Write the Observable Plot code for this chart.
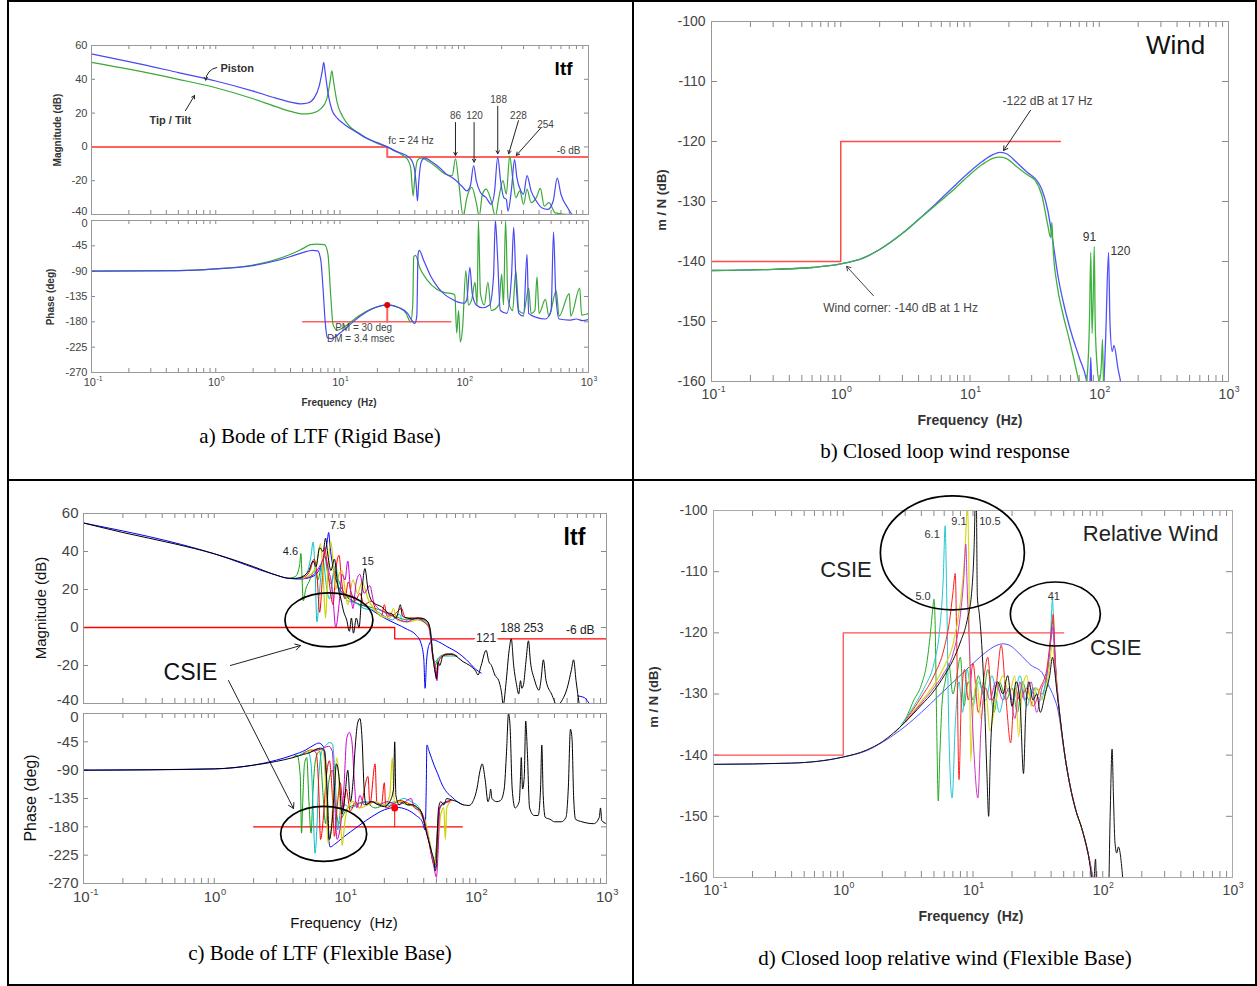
<!DOCTYPE html>
<html><head><meta charset="utf-8">
<script src="https://cdn.jsdelivr.net/npm/d3@7"></script>
<script src="https://cdn.jsdelivr.net/npm/@observablehq/plot@0.6"></script>
<style>
body{margin:0;background:#fff;}
#page{position:relative;width:1257px;height:986px;overflow:hidden;font-family:"Liberation Sans",Arial,sans-serif;background:#fff;}
.bl{position:absolute;background:#000;}
.lbl{position:absolute;white-space:pre;color:#222;transform:translate(-50%,-50%);}
.rot{transform:translate(-50%,-50%) rotate(-90deg);}
.cap{position:absolute;font-family:"Liberation Serif","Times New Roman",serif;font-size:21px;transform:translate(-50%,-50%);white-space:nowrap;color:#000;}
svg{overflow:visible;}
</style></head><body><div id="page"></div>
<script>
// ---------- tick labels ----------
const decades = [0.1, 1, 10, 100, 1000];
const exps = ["-1", "0", "1", "2", "3"];
const magTicks = [-40, -20, 0, 20, 40, 60];
const phaseTicks = [-270, -225, -180, -135, -90, -45, 0];
const windTicks = [-160, -150, -140, -130, -120, -110, -100];

// ---------- a) Bode of LTF (Rigid Base) ----------
const aMagPiston = [[0.1,55],[0.2,50.5],[0.5,44],[1,39],[2,33],[3,29],[4,26.5],[4.8,25.5],[5.5,26],[6.2,29],[6.8,36],[7.2,45],[7.4,50],[7.6,44],[8,32],[8.6,22],[9.5,17],[11,13],[13,9.5],[16,5.5],[20,2.5],[24,0],[28,-2.5],[33,-4.5],[37,-7],[39.5,-12],[41,-22],[42,-32],[43,-21],[45,-9],[48,-6.5],[55,-9],[65,-13],[71,-15.8],[83,-19],[95,-23],[105,-26],[112,-23],[119,-11],[125,-20],[135,-27],[150,-30],[165,-34],[175,-27],[186,-6],[196,-20],[208,-30],[218,-31],[225,-38],[240,-25],[254,-7.5],[265,-18],[285,-26],[300,-28],[320,-17],[345,-26],[380,-32],[420,-36],[470,-37],[520,-32],[560,-18.5],[600,-28],[680,-36],[740,-40],[900,-42]];
const aMagTipTilt = [[0.1,50],[0.2,46],[0.5,40],[1,35],[2,28.5],[3,24],[4,21],[5,19.5],[6,20],[7,22.5],[7.8,28],[8.3,38],[8.6,45],[8.9,38],[9.5,26],[10.5,18],[12,12],[14,8.5],[17,4.5],[20,2],[24,0],[28,-2.5],[32,-5],[35,-7.5],[37,-12],[38.8,-29],[40,-18],[42,-8],[45,-6.5],[50,-8],[60,-12],[70,-16],[80,-17],[85,-7],[90,-20],[98,-41],[105,-30],[115,-24],[125,-33],[132,-41],[140,-28],[150,-25],[165,-32],[178,-41],[190,-30],[205,-20],[218,-28],[232,-5.5],[245,-18],[260,-30],[280,-26],[300,-34],[320,-25],[345,-33],[380,-30],[410,-24.5],[440,-35],[480,-33],[540,-39],[700,-40],[1000,-40]];
const aPhasePiston = [[0.1,-90],[0.5,-89],[1,-86],[2,-80],[3,-72],[4,-64],[5,-57],[6,-53],[6.6,-54],[7,-70],[7.3,-120],[7.6,-180],[7.9,-208],[8.5,-210],[10,-200],[12,-185],[15,-168],[19,-155],[24,-150],[30,-155],[35,-165],[38,-178],[40,-183],[41.5,-170],[42.5,-60],[43.5,-53],[47,-70],[54,-100],[62,-120],[71,-133],[80,-140],[89,-145],[100,-147],[105,-140],[111,-83],[116,-130],[125,-150],[140,-155],[160,-150],[172,-100],[178,0],[185,-60],[195,-160],[220,-165],[240,-100],[250,-12],[260,-100],[275,-165],[300,-170],[320,-60],[330,-165],[380,-172],[450,-175],[500,-160],[523,-20],[545,-130],[580,-175],[700,-177],[800,-175],[900,-178],[1000,-176]];
const aPhaseTipTilt = [[0.1,-90],[0.5,-89],[1,-86],[2,-79],[3,-70],[4,-60],[5,-50],[5.8,-43],[6.5,-42],[7.5,-43],[8,-60],[8.4,-130],[8.8,-185],[9.5,-195],[11,-188],[14,-170],[18,-157],[24,-150],[30,-155],[34,-165],[37,-180],[38.5,-150],[39.2,-65],[40.5,-62],[44,-85],[50,-105],[60,-122],[70,-128],[80,-130],[84,-133],[87,-200],[90,-160],[93,-216],[97,-190],[103,-89],[108,-150],[115,-140],[122,-110],[127,-150],[130,0],[135,-130],[145,-150],[155,-110],[165,-160],[190,-150],[200,-95],[207,-150],[215,0],[225,-140],[245,-160],[260,-90],[275,-160],[300,-165],[330,-120],[345,-165],[370,-160],[385,-100],[400,-165],[450,-140],[480,-170],[550,-125],[580,-170],[700,-130],[720,-170],[850,-120],[880,-168],[1000,-165]];
const aRedMag = [[0.1,0],[24,0],[24,-6],[1000,-6]];
const aRedPhase = [[5,-180],[78,-180]];
const aMargin = [[24,-180],[24,-150]];

// ---------- b) Closed loop wind response ----------
const bBlue = [[0.1,-141.5],[0.3,-141.3],[0.6,-141],[1,-140.4],[1.5,-139.4],[2,-138],[3,-135.3],[4,-133],[5.5,-130.3],[7.5,-127.5],[10,-125],[12.5,-123.3],[15,-122.2],[17,-121.8],[19,-122],[23,-123.5],[28,-125.2],[32,-126.2],[36,-128],[40,-131.5],[44,-137],[48,-142.5],[53,-147],[60,-151.5],[70,-156],[80,-160],[84,-163],[86,-156],[88,-163],[105,-165],[112,-153],[118,-138.5],[121,-150],[126,-155],[130,-154],[140,-158],[146,-160],[150,-162]];
const bGreen = [[0.1,-141.5],[0.3,-141.3],[0.6,-141],[1,-140.4],[1.5,-139.4],[2,-138],[3,-135.3],[4,-133],[5.5,-130.5],[7.5,-128],[10,-125.5],[12.5,-123.8],[15,-122.8],[17,-122.6],[19,-122.8],[23,-124.2],[28,-125.6],[32,-126.5],[36,-129],[40,-134],[42,-136],[43,-133.5],[44,-138],[47,-143.7],[52,-148.5],[58,-152.6],[64,-156.5],[69.5,-160],[75,-163],[80,-160],[84,-150],[86,-138.5],[88,-152],[90,-145],[91.5,-137.5],[93,-150],[96,-157],[100,-160],[104,-157],[106,-153],[108,-162]];
const bLimit = [[0.1,-140],[1,-140],[1,-120],[50,-120]];

// ---------- c) Bode of LTF (Flexible Base) ----------
const cMagBlack = [[0.1,55],[0.2,50],[0.5,44],[1,38.8],[1.5,35],[2,32],[3,27.5],[3.6,26],[4.2,25.8],[4.8,27],[5.3,30],[5.7,35],[6,32],[6.4,42],[6.8,40],[7.1,47],[7.4,38],[7.8,30],[8.3,36],[8.8,22],[9.3,15],[9.8,8],[10.3,4],[10.8,-2],[11.2,5],[11.6,-3],[12.2,5],[12.8,0],[13.5,20],[14.2,31],[15,20],[16,14],[17.5,12],[19,11],[21,8],[23,7],[24.5,5],[25.5,8],[26.5,12],[27.5,6],[30,5],[33,4.5],[36,5],[40,4.5],[43,3],[45,-2],[47,-15],[49,-24],[50,-27],[51.5,-18],[53,-20],[56,-15],[60,-14],[66,-14],[72,-15.5],[80,-18],[90,-20],[100,-23],[104,-25],[110,-20],[120,-12],[126,-18],[132,-20],[140,-25],[150,-28],[158,-35],[162,-41],[170,-30],[180,-12],[187,-6],[195,-20],[205,-30],[213,-35],[220,-28],[225,-32],[232,-30],[242,-18],[253,-7],[262,-18],[280,-27],[305,-33],[315,-28],[329,-17],[345,-28],[380,-35],[420,-41],[460,-38],[500,-32],[540,-22],[560,-17],[585,-28],[620,-41]];
const cMagBlue = [[0.1,55],[1,38.8],[3,27.5],[3.6,26],[4.5,25.5],[5.5,26.5],[6.3,30],[6.9,38],[7.3,45],[7.5,50],[7.7,42],[8.2,30],[9,21],[10,17],[12,13],[14.5,11],[17,8],[20,5],[24.5,2],[30,-1],[35,-4],[38,-8],[40,-16],[41,-32],[42,-18],[44,-9],[47,-6.5],[52,-7.5],[60,-10],[72,-13],[85,-17],[100,-22],[110,-24]];
const cMagBlueTail = [[600,-36],[680,-37],[740,-40],[800,-42]];
const cMagGreen = [[3.8,26],[4.2,27],[4.5,33],[4.6,39],[4.7,25],[4.8,14],[5,20],[5.3,24],[5.6,28],[5.9,30],[6.2,25],[6.6,33],[7,38],[7.3,30],[7.8,23],[8.3,30],[8.8,26],[9.5,20],[10.5,16],[11.5,14],[13,12],[15,11],[17,10],[19,9],[22,7],[26,5],[30,4],[35,4.5],[40,4],[44,1],[47,-14],[49,-20],[51,-17],[54,-15],[60,-14],[70,-15]];
const cMagCyan = [[4.2,26],[4.8,27],[5.2,30],[5.5,38],[5.7,45],[5.9,30],[6.1,3],[6.4,20],[6.8,35],[7.2,22],[7.6,15],[8,24],[8.5,33],[9,20],[9.5,18],[10.5,14],[12,13],[14,10],[17,9],[20,6],[23,4],[26,7],[28,3],[32,5],[37,4],[42,3],[45,-1],[47,-15],[49,-18],[52,-16],[58,-15],[70,-15]];
const cMagRed = [[4.5,26],[5,27],[5.4,30],[5.8,36],[6.1,28],[6.4,8],[6.7,25],[7,42],[7.3,33],[7.7,20],[8.1,12],[8.5,30],[9,38],[9.4,25],[10,15],[10.6,24],[11.2,18],[12,14],[13,18],[14,12],[16,14],[17.5,8],[19,6],[20,12],[21,6],[24,7],[27,10],[29,5],[33,5],[38,5],[43,3],[46,-10],[48.5,-22],[50,-25],[52,-18],[56,-15],[65,-14],[72,-15]];
const cMagYellow = [[4.8,26],[5.5,28],[6,32],[6.5,44],[6.8,28],[7.1,5],[7.4,30],[7.8,45],[8.1,35],[8.5,20],[9,28],[9.5,30],[10,20],[10.5,12],[11.5,25],[12.5,18],[13.5,24],[15,15],[17,9],[19,6],[22,5],[23.5,10],[25,4],[30,3],[36,4],[42,2],[45,-4],[47.5,-18],[50,-22],[52,-17],[57,-15],[68,-14]];
const cMagMagenta = [[5,26],[5.8,28],[6.5,33],[7,37],[7.5,30],[8,20],[8.5,0],[9,12],[9.5,28],[10,25],[10.5,35],[11,20],[11.5,10],[12.2,24],[13,28],[14,18],[15.5,22],[16.5,14],[18,10],[20,8],[23,6],[26,4],[30,3],[35,5],[40,3],[44,0],[47,-16],[49,-20],[50.5,-28],[52,-18],[56,-15],[66,-14]];
const cRedMag = [[0.1,0],[24,0],[24,-6],[1000,-6]];
const cPhBlack = [[0.1,-90],[0.3,-89.5],[1,-88],[2,-82],[3,-76],[4,-70],[4.8,-65],[5.4,-62],[6,-57],[6.5,-55],[7,-60],[7.3,-120],[7.6,-200],[7.9,-180],[8.3,-120],[8.6,-80],[9,-100],[9.5,-160],[10,-130],[10.5,-90],[11,-140],[11.5,-110],[12,-50],[12.5,-15],[13,-8],[13.5,-40],[14,-120],[14.5,-145],[16,-140],[18,-145],[20,-148],[22,-140],[23.5,-120],[24,-45],[24.5,-130],[26,-145],[28,-140],[30,-145],[33,-145],[36,-150],[38,-155],[40,-170],[42,-190],[44,-205],[46,-220],[48,-235],[49,-250],[50,-240],[51,-180],[52,-150],[54,-140],[57,-145],[60,-135],[65,-137],[72,-140],[80,-145],[89,-146],[95,-140],[102,-120],[108,-90],[112,-80],[118,-105],[124,-140],[128,-130],[130,-120],[133,-135],[145,-140],[155,-138],[165,-120],[172,-60],[178,0],[183,-20],[190,-120],[200,-150],[215,-140],[220,-100],[223,-70],[228,-120],[235,-100],[241,-12],[248,-60],[258,-150],[280,-162],[300,-162],[313,-120],[320,-50],[328,-130],[340,-165],[370,-168],[400,-172],[450,-172],[490,-165],[510,-120],[530,-25],[545,-40],[560,-130],[580,-168],[650,-172],[800,-175],[880,-165],[900,-150],[920,-170],[1000,-175]];
const cPhBlue = [[0.1,-90],[1,-88],[2,-82],[3,-74],[4,-66],[5,-58],[5.8,-50],[6.3,-47],[6.8,-52],[7.1,-90],[7.4,-180],[7.7,-212],[8.3,-208],[9.5,-198],[11,-188],[13,-177],[16,-164],[20,-153],[24.5,-149],[30,-153],[35,-162],[39,-172],[41,-185],[41.8,-120],[42.3,-50],[44,-60],[48,-82],[51,-95],[55,-112],[60,-125],[66,-133],[72,-140],[80,-145]];
const cPhGreen = [[4,-70],[4.3,-66],[4.55,-100],[4.65,-190],[4.75,-140],[4.9,-80],[5.1,-70],[5.3,-140],[5.5,-190],[5.7,-120],[6,-70],[6.4,-60],[6.8,-130],[7.1,-175],[7.5,-110],[8,-90],[8.5,-150],[9,-175],[9.5,-165],[10.5,-150],[12,-145],[14,-140],[17,-150],[20,-145],[25,-140],[30,-145],[35,-148],[40,-165],[43,-195],[46,-225],[48,-240],[50,-210],[52,-160],[55,-145],[60,-140],[65,-138]];
const cPhCyan = [[4.5,-66],[5.2,-60],[5.5,-80],[5.7,-150],[5.9,-222],[6.1,-180],[6.3,-100],[6.7,-58],[7.2,-50],[7.6,-46],[8,-48],[8.4,-100],[8.8,-185],[9.3,-150],[10,-145],[11,-150],[13,-143],[16,-140],[20,-147],[24,-143],[28,-135],[32,-140],[37,-150],[41,-175],[44,-200],[47,-230],[49,-245],[51,-200],[53,-150],[56,-145],[62,-140]];
const cPhRed = [[4.8,-64],[5.5,-58],[6,-62],[6.3,-120],[6.5,-200],[6.8,-170],[7.2,-100],[7.6,-75],[8,-130],[8.3,-195],[8.7,-150],[9.2,-110],[9.7,-150],[10.2,-120],[11,-155],[12,-140],[13,-150],[15,-100],[15.5,-145],[17,-80],[17.5,-140],[19,-145],[20,-110],[20.5,-150],[23,-145],[26,-138],[30,-142],[35,-150],[40,-170],[44,-205],[47,-235],[49,-240],[51,-190],[53,-150],[57,-142],[65,-138]];
const cPhYellow = [[5,-62],[6,-57],[6.8,-58],[7.1,-110],[7.4,-205],[7.8,-190],[8.2,-120],[8.7,-70],[9.1,-130],[9.5,-210],[10,-170],[10.5,-150],[11.5,-140],[13,-150],[15,-145],[17,-140],[20,-145],[22,-130],[23,-70],[23.8,-140],[27,-140],[31,-145],[36,-152],[41,-170],[45,-210],[48,-240],[51,-220],[54,-160],[57,-150],[58.5,-200],[60,-150],[64,-140]];
const cPhMagenta = [[5.5,-60],[6.5,-57],[7.5,-52],[8,-60],[8.3,-130],[8.7,-200],[9.2,-180],[9.8,-120],[10.3,-40],[10.8,-30],[11.3,-45],[11.8,-110],[12.3,-150],[13,-130],[14,-145],[16,-140],[18,-145],[21,-140],[25,-145],[28,-142],[32,-135],[34,-150],[38,-155],[42,-185],[45,-215],[48,-245],[50,-260],[51.5,-220],[53,-150],[56,-143],[63,-140]];
const cRedPhase = [[2,-180],[79,-180]];
const cMargin = [[24,-180],[24,-150]];

// ---------- d) Closed loop relative wind (Flexible Base) ----------
const dBlue = [[0.1,-141.5],[0.4,-141.3],[1,-140.3],[1.5,-139.3],[2,-137.9],[3,-135.3],[4,-133],[5.5,-130.2],[7.5,-127.5],[10,-125],[12.5,-123.2],[15,-122.1],[17,-121.8],[19,-122],[23,-123.5],[28,-125.3],[34,-126.5],[38,-128.5],[42,-130.5],[45,-132.5],[48,-136],[51,-140],[56,-145],[62,-149],[69,-152],[77,-156],[85,-160.5]];
const dBlack = [[0.1,-141.5],[0.4,-141.3],[1,-140.3],[1.5,-139.2],[2,-137.8],[3,-134.6],[4,-131.8],[5,-129.5],[6,-127],[7,-124.5],[8,-121.5],[9,-118],[9.8,-113],[10.2,-106],[10.45,-98],[10.6,-98],[10.8,-114],[11.2,-117],[11.6,-121],[12.2,-130],[12.8,-143],[13.2,-150],[13.6,-140],[14.5,-131],[15.5,-128],[17,-130],[18.5,-127],[20,-132],[21.5,-128],[23,-131],[24.5,-143],[25.5,-133],[27,-128],[29,-131],[31,-130],[33,-133],[36,-130],[39,-127],[41,-124],[42.5,-126],[44,-129],[47,-134],[51,-140],[56,-145],[62,-149],[69,-152],[77,-156],[85,-161],[88,-157],[90,-163],[110,-165],[114,-150],[118,-139],[121,-147],[124,-154],[128,-156],[132,-155],[145,-162]];
const dGreen = [[2.5,-136.3],[3,-134.2],[3.5,-131],[4,-128.5],[4.4,-125],[4.7,-120],[4.9,-116],[5.0,-114.5],[5.1,-118],[5.25,-135],[5.4,-147.5],[5.55,-140],[5.8,-131],[6.1,-128],[6.5,-125],[7,-130],[7.5,-127],[8,-124],[8.5,-132],[9.2,-128],[10,-131],[11,-127],[12,-130],[13,-126],[14.5,-133],[16,-128],[18,-131],[20,-129],[22,-133],[24,-128],[27,-131],[30,-129],[34,-130],[37,-127],[39,-123],[41,-118],[42,-121],[44,-128],[47,-134],[51,-140],[56,-145],[62,-149],[69,-152],[77,-156],[85,-161]];
const dCyan = [[2.8,-135],[3.5,-132],[4.2,-129],[5,-125],[5.5,-120],[5.9,-111],[6.1,-102.5],[6.25,-112],[6.5,-135],[6.9,-147],[7.3,-135],[7.8,-128],[8.3,-133],[9,-126],[10,-132],[11,-128],[12.5,-131],[14,-127],[16,-133],[18,-129],[20.5,-131],[23,-127],[26,-132],[29,-129],[33,-131],[37,-127],[39.5,-121],[41,-114.5],[42,-120],[44,-128],[47,-134],[51,-140],[56,-145],[62,-149],[69,-152],[77,-156],[85,-161]];
const dRed = [[3,-134.4],[4,-130.5],[5,-127],[6,-122.5],[6.6,-118],[7,-113.5],[7.3,-110.3],[7.5,-122],[7.8,-144],[8.1,-132],[8.6,-126],[9.2,-131],[10,-125],[11,-133],[12,-128],[13,-124],[14,-131],[15,-129],[16.5,-122],[18,-131],[19.5,-138],[21,-129],[23,-131],[26,-129],[29,-132],[33,-129],[37,-126],[40,-120],[41.5,-117],[43,-124],[45,-130],[48,-136],[51,-140],[56,-145],[62,-149],[69,-152],[77,-156],[85,-161]];
const dYellow = [[3,-134.6],[4,-131.2],[5,-128.5],[6,-125.5],[7,-122],[8,-115],[8.6,-108],[9.1,-99],[9.3,-110],[9.6,-141],[10,-133],[10.7,-128],[11.5,-134],[12.5,-129],[13.5,-136],[15,-131],[17,-127],[19,-130],[21,-127],[22.5,-137],[24,-129],[26,-127],[28,-132],[31,-129],[35,-131],[38,-127],[41,-122],[43,-126],[45,-130],[48,-136],[51,-140],[56,-145],[62,-149],[69,-152],[77,-156],[85,-161]];
const dMagenta = [[3,-134.6],[4,-131.5],[5,-129],[6,-126.5],[7,-123.5],[8,-117],[8.5,-111],[8.8,-105.5],[9,-112],[9.5,-125],[10.2,-140],[10.9,-147],[11.5,-136],[12.5,-129],[13.5,-131],[15,-128],[17,-131],[19,-129],[21,-134],[23,-128],[25,-131],[28,-128],[31,-133],[34,-129],[37,-127],[40,-121],[41.5,-119],[43,-126],[45,-130],[48,-136],[51,-140],[56,-145],[62,-149],[69,-152],[77,-156],[85,-161]];
const dLimit = [[0.1,-140],[1,-140],[1,-120],[50,-120]];

// ---------- helpers ----------
const page = document.getElementById("page");
const logTicks = [0.1,1,10,100].flatMap(d => [1,2,3,4,5,6,7,8,9].map(k => +(k*d).toPrecision(3))).concat([1000]);
const FONT = "'Liberation Sans', Arial, sans-serif";
// data curves: smooth (monotone in x); limit lines: straight segments
const L = (data, stroke, sw = 1) => Plot.line(data, {x: d => d[0], y: d => d[1], stroke, strokeWidth: sw, clip: true, curve: "monotone-x"});
const R = (data, stroke, sw = 1) => Plot.line(data, {x: d => d[0], y: d => d[1], stroke, strokeWidth: sw, clip: true});

function bode(o) {
  const iw = o.fx1 - o.fx0, ih = o.fy1 - o.fy0;
  const ml = 60, mr = 20, mt = o.mt ?? 4, mb = o.xLabels ? 34 : 4;
  const width = ml + iw + mr, height = mt + ih + mb;
  const tl = o.tl ?? 5, tc = o.tickColor ?? "#888", fs = o.fs;
  const edge = o.edge || {};  // tick label nudged away from the neighbouring panel
  const marks = [
    Plot.ruleX(logTicks, {x: d => d, insetTop: ih - tl, stroke: tc}),
    Plot.ruleX(logTicks, {x: d => d, insetBottom: ih - tl, stroke: tc}),
    Plot.ruleY(o.yTicks, {y: d => d, insetRight: iw - tl, stroke: tc}),
    Plot.ruleY(o.yTicks, {y: d => d, insetLeft: iw - tl, stroke: tc}),
    Plot.text(o.yTicks.filter(t => t !== edge.tick), {y: d => d, frameAnchor: "left", dx: -o.pad, textAnchor: "end", text: d => String(d), fill: "#444", fontSize: fs})
  ];
  if (edge.tick !== undefined) {
    marks.push(Plot.text([edge.tick], {y: d => d, frameAnchor: "left", dx: -o.pad, dy: edge.dy, textAnchor: "end", text: d => String(d), fill: "#444", fontSize: fs}));
  }
  if (o.xLabels) {
    marks.push(Plot.text(decades, {x: d => d, frameAnchor: "bottom", dy: o.xdy, dx: -0.15 * fs, text: () => "10", fill: "#444", fontSize: fs}));
    marks.push(Plot.text(decades, {x: d => d, frameAnchor: "bottom", dy: o.xdy - 0.45 * fs, dx: 0.45 * fs, textAnchor: "start", text: (d, i) => exps[i], fill: "#444", fontSize: 0.62 * fs}));
  }
  marks.push(...o.marks);
  marks.push(Plot.frame({stroke: o.frameColor ?? "#999"}));
  const svg = Plot.plot({
    width, height, marginLeft: ml, marginRight: mr, marginTop: mt, marginBottom: mb,
    x: {type: "log", domain: [0.1, 1000], axis: null},
    y: {domain: o.yDomain, axis: null},
    style: {fontFamily: FONT, overflow: "visible", background: "transparent"},
    marks
  });
  svg.style.position = "absolute";
  svg.style.left = (o.fx0 - ml) + "px";
  svg.style.top = (o.fy0 - mt) + "px";
  page.appendChild(svg);
  return svg;
}
function ellipse(svg, f, v, rx, ry) {
  const sx = svg.scale("x"), sy = svg.scale("y");
  d3.select(svg).append("ellipse").attr("cx", sx.apply(f)).attr("cy", sy.apply(v))
    .attr("rx", rx).attr("ry", ry).attr("fill", "none").attr("stroke", "#000").attr("stroke-width", 1.7);
}
function label(text, x, y, css, rot) {
  const d = document.createElement("div");
  d.className = "lbl" + (rot ? " rot" : "");
  d.textContent = text;
  d.style.left = x + "px"; d.style.top = y + "px";
  Object.assign(d.style, css || {});
  page.appendChild(d);
}
function caption(text, x, y) {
  const d = document.createElement("div");
  d.className = "cap"; d.textContent = text;
  d.style.left = x + "px"; d.style.top = y + "px";
  page.appendChild(d);
}
function bar(x, y, w, h) {
  const d = document.createElement("div");
  d.className = "bl";
  Object.assign(d.style, {left: x + "px", top: y + "px", width: w + "px", height: h + "px"});
  page.appendChild(d);
}
const T = (arr, opts) => Plot.text(arr, {x: d => d[0], y: d => d[1], text: d => d[2], ...opts});
const A = (arr, opts) => Plot.arrow(arr, {x1: d => d[0], y1: d => d[1], x2: d => d[2], y2: d => d[3], stroke: "#222", strokeWidth: 1, headLength: 6, ...opts});

// ---------- panel a ----------
const BLUE_A = "#4848f0", GREEN_A = "#3aa83a", RED_A = "#ff6060";
bode({fx0: 91, fx1: 588, fy0: 45, fy1: 214, yDomain: [-40, 60], yTicks: magTicks, fs: 11, pad: 4, tl: 4, edge: {tick: -40, dy: -3},
  marks: [
    R(aRedMag, RED_A, 2),
    L(aMagTipTilt, GREEN_A, 1.2),
    L(aMagPiston, BLUE_A, 1.2),
    T([[630, 46, "ltf"]], {fontSize: 19, fontWeight: "bold"}),
    T([[1.09, 46.4, "Piston"]], {fontSize: 11, fontWeight: "bold", textAnchor: "start", fill: "#333"}),
    T([[0.293, 15.6, "Tip / Tilt"]], {fontSize: 11, fontWeight: "bold", textAnchor: "start", fill: "#333"}),
    A([[1.02, 47, 0.83, 39.5]], {bend: -40, headLength: 5}),
    A([[0.571, 21.5, 0.675, 30.4]], {headLength: 5}),
    T([[24.5, 3.8, "fc = 24 Hz"]], {fontSize: 10, textAnchor: "start", fill: "#444"}),
    T([[85, 18.6, "86"], [121, 18.6, "120"], [189, 28, "188"], [273, 18.6, "228"], [451, 13.3, "254"]], {fontSize: 10, fill: "#444"}),
    A([[85, 14.4, 85, -5], [120, 14.4, 120, -9], [186, 24, 186, -4], [273, 15.5, 228, -4], [411, 11, 263, -5]], {headLength: 5}),
    T([[863, -2.1, "-6 dB"]], {fontSize: 10, textAnchor: "end", fill: "#444"})
  ]});
bode({fx0: 91, fx1: 588, fy0: 220, fy1: 372, yDomain: [-270, 0], yTicks: phaseTicks, fs: 11, pad: 4, tl: 4, xLabels: true, xdy: 13, edge: {tick: 0, dy: 3},
  marks: [
    R(aRedPhase, RED_A, 1.5),
    R(aMargin, RED_A, 2),
    L(aPhaseTipTilt, GREEN_A, 1.2),
    L(aPhasePiston, BLUE_A, 1.2),
    Plot.dot([[24, -150]], {x: d => d[0], y: d => d[1], r: 3, fill: "#e00000"}),
    T([[15.5, -190, "PM = 30 deg"], [14.7, -211, "DM = 3.4 msec"]], {fontSize: 10, fill: "#444"})
  ]});
label("Magnitude (dB)", 57, 130, {fontSize: "10px", fontWeight: "bold", color: "#333"}, true);
label("Phase (deg)", 50, 297, {fontSize: "10px", fontWeight: "bold", color: "#333"}, true);
label("Frequency  (Hz)", 339, 402, {fontSize: "10px", fontWeight: "bold", color: "#333"});
caption("a) Bode of LTF (Rigid Base)", 320, 436);

// ---------- panel b ----------
const BLUE_B = "#5050ff", GREEN_B = "#3db33d", RED_B = "#ff4a4a";
bode({fx0: 711, fx1: 1228, fy0: 21, fy1: 381, yDomain: [-160, -100], yTicks: windTicks, fs: 14, pad: 6, tl: 6, xLabels: true, xdy: 17,
  marks: [
    R(bLimit, RED_B, 1.5),
    L(bBlue, BLUE_B, 1.3),
    L(bGreen, GREEN_B, 1.3),
    T([[389, -104, "Wind"]], {fontSize: 26, fill: "#111"}),
    T([[39.8, -113.3, "-122 dB at 17 Hz"]], {fontSize: 12, fill: "#444"}),
    A([[29.4, -114.8, 18.2, -121.5]], {headLength: 7}),
    T([[2.9, -147.7, "Wind corner: -140 dB at 1 Hz"]], {fontSize: 12, fill: "#444"}),
    A([[1.79, -145.7, 1.108, -140.8]], {headLength: 7, stroke: "#444"}),
    T([[84, -136, "91"]], {fontSize: 12, fill: "#333"}),
    T([[122, -138.2, "120"]], {fontSize: 12, fill: "#333", textAnchor: "start"})
  ]});
label("m / N (dB)", 661, 200, {fontSize: "13px", fontWeight: "bold", color: "#333"}, true);
label("Frequency  (Hz)", 970, 420, {fontSize: "14px", fontWeight: "bold", color: "#333"});
caption("b) Closed loop wind response", 945, 451);

// ---------- panel c ----------
const cMag = bode({fx0: 83, fx1: 606, fy0: 513, fy1: 703, yDomain: [-40, 60], yTicks: magTicks, fs: 15, pad: 5, tl: 5, edge: {tick: -40, dy: -3},
  marks: [
    R(cRedMag, "#ff0000", 1.3),
    L(cMagBlue, "#0000ff", 1),
    L(cMagBlueTail, "#0000ff", 1),
    L(cMagGreen, "#10a010", 1),
    L(cMagCyan, "#00c0c8", 1),
    L(cMagRed, "#ff0000", 1),
    L(cMagYellow, "#d0d000", 1.2),
    L(cMagMagenta, "#d000d0", 1),
    L(cMagBlack, "#000", 1),
    T([[569, 47.4, "ltf"]], {fontSize: 23, fontWeight: "bold"}),
    T([[8.8, 53.7, "7.5"], [3.83, 40, "4.6"], [14.9, 34.7, "15"]], {fontSize: 11, fill: "#222"}),
    T([[120, -5.8, "121"]], {fontSize: 12, fill: "#222", stroke: "white", strokeWidth: 6, paintOrder: "stroke"}),
    T([[184, -0.5, "188"], [276, -0.5, "253"], [630, -1.6, "-6 dB"]], {fontSize: 12, fill: "#222"}),
    T([[0.657, -23.7, "CSIE"]], {fontSize: 23, fill: "#111"}),
    A([[1.33, -20, 4.57, -9.5], [1.285, -27.9, 4.04, -95.3]], {headLength: 9, stroke: "#222"})
  ]});
ellipse(cMag, 7.6, 3.7, 44, 27);
const cPh = bode({fx0: 83, fx1: 606, fy0: 713, fy1: 883, yDomain: [-270, 0], yTicks: phaseTicks, fs: 15, pad: 5, tl: 5, xLabels: true, xdy: 18, edge: {tick: 0, dy: 4},
  marks: [
    R(cRedPhase, "#ff0000", 1.3),
    R(cMargin, "#ff0000", 1),
    L(cPhBlue, "#0000ff", 1),
    L(cPhGreen, "#10a010", 1),
    L(cPhCyan, "#00c0c8", 1),
    L(cPhRed, "#ff0000", 1),
    L(cPhYellow, "#d0d000", 1.2),
    L(cPhMagenta, "#d000d0", 1),
    L(cPhBlack, "#000", 1),
    Plot.dot([[24, -150]], {x: d => d[0], y: d => d[1], r: 3.5, fill: "#ff0000"})
  ]});
ellipse(cPh, 6.93, -192, 43, 27.5);
label("Magnitude (dB)", 40, 608, {fontSize: "15px", color: "#111"}, true);
label("Phase (deg)", 31, 798, {fontSize: "16px", color: "#111"}, true);
label("Frequency  (Hz)", 344, 922, {fontSize: "15px", color: "#111"});
caption("c) Bode of LTF (Flexible Base)", 320, 953);

// ---------- panel d ----------
const dPlot = bode({fx0: 713, fx1: 1232, fy0: 510, fy1: 877, yDomain: [-160, -100], yTicks: windTicks, fs: 14, pad: 6, tl: 6, xLabels: true, xdy: 17, frameColor: "#aaa",
  marks: [
    R(dLimit, "#ff5050", 1.3),
    L(dBlue, "#5050ff", 1),
    L(dGreen, "#22aa22", 1),
    L(dCyan, "#20c8d0", 1),
    L(dRed, "#ff2020", 1),
    L(dYellow, "#d8d820", 1.2),
    L(dMagenta, "#cc33cc", 1),
    L(dBlack, "#111", 1),
    T([[234, -103.9, "Relative Wind"]], {fontSize: 22, fill: "#222"}),
    T([[1.05, -109.8, "CSIE"], [126, -122.4, "CSIE"]], {fontSize: 22, fill: "#222"}),
    T([[4.84, -103.9, "6.1"], [7.8, -101.8, "9.1"], [13.5, -101.8, "10.5"], [4.12, -114, "5.0"], [42, -114, "41"]], {fontSize: 11, fill: "#333"})
  ]});
ellipse(dPlot, 7.0, -107, 72, 57);
ellipse(dPlot, 43.5, -117, 45, 32);
label("m / N (dB)", 653, 697, {fontSize: "13px", fontWeight: "bold", color: "#333"}, true);
label("Frequency  (Hz)", 971, 916, {fontSize: "14px", fontWeight: "bold", color: "#333"});
caption("d) Closed loop relative wind (Flexible Base)", 945, 958);

// ---------- table borders ----------
bar(7, 0, 2, 986);
bar(632, 0, 2, 986);
bar(1255, 0, 2, 986);
bar(7, 0, 1250, 2);
bar(7, 479, 1250, 2);
bar(7, 984, 1250, 2);
</script></body></html>
